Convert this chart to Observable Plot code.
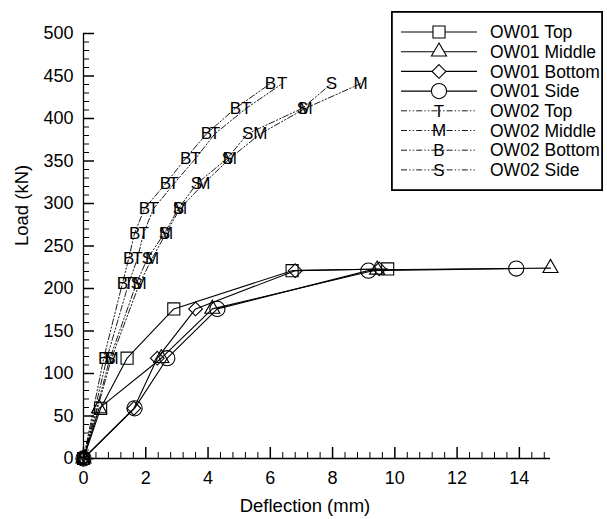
<!DOCTYPE html>
<html><head><meta charset="utf-8">
<script src="https://cdn.jsdelivr.net/npm/d3@7"></script>
<script src="https://cdn.jsdelivr.net/npm/@observablehq/plot@0.6"></script>
<style>
body{margin:0;background:#fff;}
#wrap{position:relative;width:607px;height:519px;font-family:"Liberation Sans",Arial,sans-serif;}
#legend{position:absolute;left:391px;top:11px;}
</style></head><body><div id="wrap"></div>
<script>
// ---- data ----
const ow01TopX  = [0, 0.55, 1.4, 2.9, 6.7, 9.77];
const ow01TopY  = [0, 59, 118, 176, 221, 223];
const ow01MidX  = [0, 0.5, 2.5, 4.14, 9.43, 15.0];
const ow01MidY  = [0, 59, 118, 176, 222, 224];
const ow01BotX  = [0, 1.62, 2.37, 3.6, 6.8, 9.5];
const ow01BotY  = [0, 59, 118, 176, 221, 223];
const ow01SideX = [0, 1.64, 2.69, 4.3, 9.15, 13.9];
const ow01SideY = [0, 59, 118, 176, 221, 223.5];

const ow02Load  = [0, 118, 206, 235, 265, 294, 323, 353, 382, 412, 441];
const ow02TopX  = [0, 0.75, 1.45, 1.73, 1.93, 2.25, 2.9, 3.6, 4.22, 5.23, 6.38];
const ow02MidX  = [0, 0.9, 1.8, 2.2, 2.65, 3.1, 3.85, 4.7, 5.68, 7.13, 8.9];
const ow02BotX  = [0, 0.65, 1.25, 1.45, 1.64, 1.96, 2.63, 3.28, 3.95, 4.88, 6.0];
const ow02SideX = [0, 0.85, 1.7, 2.05, 2.6, 3.05, 3.63, 4.62, 5.27, 7.03, 7.96];

const xMajorTicks = [0, 2, 4, 6, 8, 10, 12, 14];
const yMajorTicks = [0, 50, 100, 150, 200, 250, 300, 350, 400, 450, 500];
const xLabel = "Deflection (mm)";
const yLabel = "Load (kN)";

// ---- series definitions ----
const ow01 = [
  {name: "OW01 Top",    xs: ow01TopX,  ys: ow01TopY,  symbol: "square",   r: 6.8},
  {name: "OW01 Middle", xs: ow01MidX,  ys: ow01MidY,  symbol: "triangle", r: 5.6},
  {name: "OW01 Bottom", xs: ow01BotX,  ys: ow01BotY,  symbol: "diamond2", r: 6.2},
  {name: "OW01 Side",   xs: ow01SideX, ys: ow01SideY, symbol: "circle",   r: 7.6}
];
const ow02 = [
  {name: "OW02 Top",    xs: ow02TopX,  letter: "T"},
  {name: "OW02 Middle", xs: ow02MidX,  letter: "M"},
  {name: "OW02 Bottom", xs: ow02BotX,  letter: "B"},
  {name: "OW02 Side",   xs: ow02SideX, letter: "S"}
];

const W = 607, H = 519, mL = 83, mR = 57, mT = 33, mB = 61;
const frameW = W - mL - mR, frameH = H - mT - mB;
const dash = "6,2.2,1.3,2.2,1.3,2.2";
const font = "Liberation Sans, Arial, sans-serif";

const xMinor = d3.range(0, 15.01, 0.4).filter(v => Math.abs(v / 2 - Math.round(v / 2)) > 1e-6);
const yMinor = d3.range(0, 501, 10).filter(v => v % 50 !== 0);

const rows01 = s => s.xs.map((x, i) => ({x, y: s.ys[i]}));
const rows02 = s => s.xs.map((x, i) => ({x, y: ow02Load[i], t: s.letter}));

const marks = [
  Plot.ruleX([0], {stroke: "black", strokeWidth: 1.3}),
  Plot.ruleY([0], {stroke: "black", strokeWidth: 1.3}),
  Plot.tickX(xMinor, {x: d => d, insetTop: frameH - 6, stroke: "black"}),
  Plot.tickX(xMajorTicks, {x: d => d, insetTop: frameH - 11, stroke: "black", strokeWidth: 1.5}),
  Plot.tickY(yMinor, {y: d => d, insetRight: frameW - 6, stroke: "black"}),
  Plot.tickY(yMajorTicks, {y: d => d, insetRight: frameW - 11, stroke: "black", strokeWidth: 1.5}),
  Plot.axisX(xMajorTicks, {tickSize: 0, tickPadding: 13, fontSize: 18, label: null}),
  Plot.axisY(yMajorTicks, {tickSize: 0, tickPadding: 10, fontSize: 18, label: null}),
  ...ow02.flatMap(s => [
    Plot.line(rows02(s), {x: "x", y: "y", stroke: "black", strokeWidth: 0.9, strokeDasharray: dash}),
    Plot.text(rows02(s), {x: "x", y: "y", text: "t", fontSize: 17, fill: "black"})
  ]),
  ...ow01.flatMap(s => [
    Plot.line(rows01(s), {x: "x", y: "y", stroke: "black", strokeWidth: 1.1}),
    Plot.dot(rows01(s), {x: "x", y: "y", symbol: s.symbol, r: s.r, stroke: "black", fill: "none", strokeWidth: 1.1})
  ]),
  Plot.text([xLabel], {frameAnchor: "bottom", dy: 53, dx: -12, fontSize: 18.5, fill: "black"}),
  Plot.text([yLabel], {frameAnchor: "left", rotate: -90, dx: -61, fontSize: 18.5, fill: "black"})
];

const chart = Plot.plot({
  width: W, height: H,
  marginLeft: mL, marginRight: mR, marginTop: mT, marginBottom: mB,
  x: {domain: [0, 15], axis: null},
  y: {domain: [0, 500], axis: null},
  style: {fontFamily: font, background: "white", color: "black"},
  marks
});
const wrap = document.getElementById("wrap");
wrap.appendChild(chart);

// ---- legend (overlaid on the plot, inside a frame) ----
const legW = 212, legH = 180;
const leg = d3.select(wrap).append("svg").attr("id", "legend")
  .attr("width", legW).attr("height", legH)
  .style("font-family", font);
leg.append("rect").attr("x", 0.9).attr("y", 0.9).attr("width", legW - 1.8).attr("height", legH - 1.8)
  .attr("fill", "white").attr("stroke", "black").attr("stroke-width", 1.8);
const symMap = {square: d3.symbolSquare, triangle: d3.symbolTriangle, diamond2: d3.symbolDiamond2, circle: d3.symbolCircle};
const entries = [...ow01.map(s => ({...s, solid: true})), ...ow02.map(s => ({...s, solid: false}))];
entries.forEach((s, i) => {
  const cy = 21 + i * 19.7;
  const g = leg.append("g").attr("transform", `translate(0,${cy})`);
  g.append("line").attr("x1", 10).attr("x2", 86).attr("y1", 0).attr("y2", 0)
    .attr("stroke", "black").attr("stroke-width", s.solid ? 1.1 : 0.9)
    .attr("stroke-dasharray", s.solid ? null : dash);
  if (s.solid) {
    g.append("path").attr("transform", "translate(48,0)")
      .attr("d", d3.symbol(symMap[s.symbol], Math.PI * s.r * s.r)())
      .attr("fill", "white").attr("stroke", "black").attr("stroke-width", 1.1);
  } else {
    g.append("text").attr("x", 48).attr("y", 0).attr("dy", "0.35em").attr("text-anchor", "middle")
      .attr("font-size", 17).text(s.letter);
  }
  g.append("text").attr("x", 99).attr("y", 0).attr("dy", "0.35em").attr("font-size", 17.5).text(s.name);
});
</script></body></html>
